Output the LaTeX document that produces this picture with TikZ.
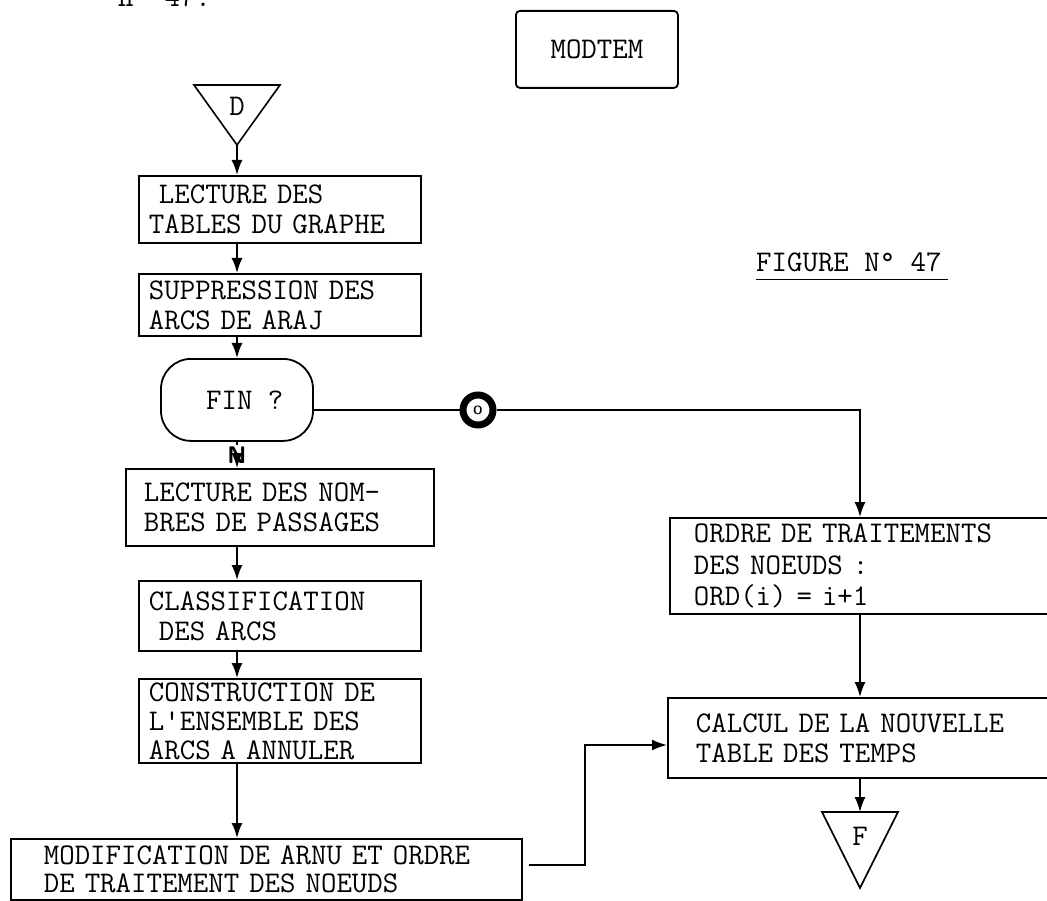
\documentclass[tikz,border=0pt]{standalone}
\usetikzlibrary{arrows.meta}
\tikzset{
  procbox/.style={draw, line width=1.8pt, align=left, anchor=north west, inner xsep=10pt, inner ysep=1pt},
  flow/.style={line width=1.8pt, -{Latex[length=15pt,width=11pt]}},
  link/.style={line width=1.8pt},
}
\begin{document}
\begin{tikzpicture}[x=1pt, y=-1pt, every node/.style={font=\fontsize{30}{30}\selectfont\ttfamily}]
\useasboundingbox (0,0) rectangle (1047,901);
% en-tete
\node[anchor=base west, inner xsep=0pt] (numfig) at (118,7) {n° 47.};
\node[draw, line width=1.8pt, rounded corners=4pt, minimum width=162, minimum height=77, anchor=north west] (titre) at (515,10) {MODTEM};
\node[anchor=base west, inner xsep=0pt, inner ysep=7pt] (legende) at (756,272) {FIGURE N° 47};
\draw[line width=1.5pt] (legende.south west) -- ([xshift=6pt]legende.south east);
% debut
\coordinate (dapex) at (237,145);
\draw[line width=1.6pt] (194,85) -- (280,85) -- (dapex) -- cycle;
\node (dlet) at (237,106) {D};
% colonne gauche
\node[procbox, text width=262, minimum height=67] (lect) at (138,175) {~LECTURE DES\\TABLES DU GRAPHE};
\node[procbox, text width=262, minimum height=62] (suppr) at (138,273) {SUPPRESSION DES\\ARCS DE ARAJ};
\node[draw, line width=1.8pt, rounded corners=30pt, minimum width=152, minimum height=82, anchor=north] (fin) at (237,358) {~FIN ?};
\node[font=\bfseries\sffamily\fontsize{24}{24}\selectfont, inner sep=1pt] (nmark) at (237,455) {N};
\node[procbox, text width=272, inner xsep=18pt, minimum height=77] (nbpass) at (125,468) {LECTURE DES NOM-\\BRES DE PASSAGES};
\node[procbox, text width=262, minimum height=70] (classif) at (138,580) {CLASSIFICATION\\~DES ARCS};
\node[procbox, text width=262, minimum height=84, font=\fontsize{30}{29}\selectfont\ttfamily] (constr) at (138,678) {CONSTRUCTION DE\\L'ENSEMBLE DES\\ARCS A ANNULER};
\node[procbox, text width=471, inner xsep=20pt, minimum height=61, font=\fontsize{30}{28.5}\selectfont\ttfamily] (modif) at (10,838) {\hspace*{13pt}MODIFICATION DE ARNU ET ORDRE\\\hspace*{13pt}DE TRAITEMENT DES NOEUDS};
% colonne droite
\node[procbox, text width=370, inner xsep=24pt, minimum height=96, font=\fontsize{30}{31.5}\selectfont\ttfamily] (ordre) at (669,517) {ORDRE DE TRAITEMENTS\\DES NOEUDS :\\ORD(i) = i+1};
\node[procbox, text width=370, inner xsep=28pt, minimum height=80, font=\fontsize{30}{30}\selectfont\ttfamily] (calcul) at (667,697) {CALCUL DE LA NOUVELLE\\TABLE DES TEMPS};
% fin
\coordinate (ftop) at (860,812);
\draw[line width=1.6pt] (822,812) -- (898,812) -- (860,888) -- cycle;
\node (flet) at (860,836) {F};
% liaisons
\draw[flow] (dapex) -- (lect.north -| dapex);
\draw[flow] (lect.south -| dapex) -- (suppr.north -| dapex);
\draw[flow] (suppr.south -| dapex) -- (fin.north);
\draw[link] (fin.south) -- (nmark);
\draw[flow] (nmark) -- (nbpass.north -| dapex);
\draw[flow] (nbpass.south -| dapex) -- (classif.north -| dapex);
\draw[flow] (classif.south -| dapex) -- (constr.north -| dapex);
\draw[flow] (constr.south -| dapex) -- (modif.north -| dapex);
\node[circle, draw, line width=7pt, minimum size=30pt, inner sep=0pt, font=\bfseries\sffamily\fontsize{12}{12}\selectfont] (omark) at (478,410) {O};
\draw[link] (fin.east |- omark) -- (omark);
\coordinate (coude) at (860,410);
\draw[flow] (omark) -- (coude) -- (ordre.north -| coude);
\draw[flow] (ordre.south -| coude) -- (calcul.north -| coude);
\draw[flow] (calcul.south -| coude) -- (ftop);
\coordinate (relais) at (585,865);
\coordinate (relaishaut) at (585,745);
\draw[flow, shorten <=6pt] (modif.east |- relais) -- (relais) -- (relaishaut) -- (calcul.west |- relaishaut);
\end{tikzpicture}
\end{document}
